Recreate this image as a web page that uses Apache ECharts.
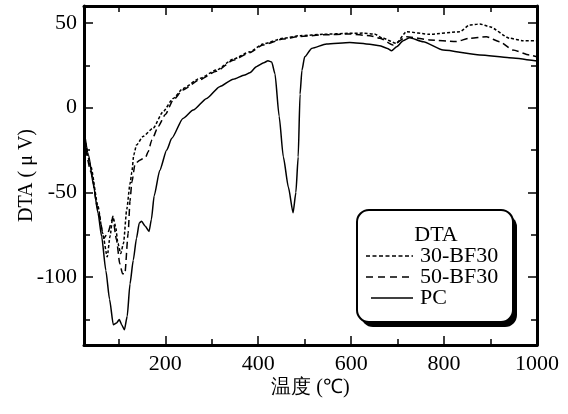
<!DOCTYPE html>
<html>
<head>
<meta charset="utf-8">
<script src="https://cdn.jsdelivr.net/npm/echarts@6/dist/echarts.min.js"></script>
<style>html,body{margin:0;padding:0;background:#fff}#c{width:568px;height:414px}</style>
</head>
<body>
<div id="c"></div>
<script>
// ---- data ----
const pcTemp = [25, 35, 45, 55, 63, 72, 80, 88, 95, 101, 106, 112, 118, 124, 131, 138, 144, 149, 157, 165, 170, 176, 188, 203, 214, 238, 260, 289, 317, 346, 371, 382, 396, 412, 421, 429, 436, 445, 454, 465, 475, 481, 486, 490, 494, 500, 515, 547, 597, 640, 661, 678, 687, 698, 712, 726, 755, 798, 877, 940, 1000];
const pcValue = [-13, -28, -45, -62, -76, -96, -113, -128, -127, -125, -128, -131, -123, -104, -90, -77, -68, -67, -70, -73, -66, -52, -37, -25, -18, -6.3, -1.4, 5.5, 12.4, 16.8, 19.3, 20.6, 24.2, 26.5, 27.7, 27, 20, -5, -29, -47, -62, -50, -29, 8, 22, 30, 35, 37.6, 38.5, 37.5, 36.6, 35, 33.6, 36, 39.5, 41.3, 38.9, 34, 31.1, 29.5, 27.5];

const bf30Temp = [25, 40, 55, 65, 75, 81, 87, 93, 98, 104, 110, 117, 124, 128, 132, 138, 152, 174, 195, 217, 238, 274, 310, 346, 382, 410, 453, 490, 540, 597, 625, 650, 668, 697, 719, 769, 834, 855, 877, 898, 941, 970, 1000];
const bf30Value = [-15, -35, -58, -74, -88, -76, -64, -70, -80, -86, -80, -60, -45, -38, -28, -22, -17, -12, -2.4, 5.5, 11.4, 17.3, 22.2, 28.6, 33, 37.6, 40.9, 42.5, 43.3, 43.9, 44, 43.5, 41, 38, 44.8, 43.3, 44.8, 48.8, 49.4, 47.8, 41, 39.5, 39.5];

const bf50Temp = [25, 40, 55, 68, 76, 87, 95, 102, 108, 113, 120, 124, 128, 135, 145, 158, 163, 171, 185, 200, 217, 238, 274, 310, 346, 382, 410, 453, 490, 540, 597, 640, 662, 690, 719, 769, 826, 855, 891, 920, 948, 984, 1000];
const bf50Value = [-18, -38, -60, -77, -74, -65, -78, -92, -98, -98, -74, -55, -44, -33, -31, -29, -26, -19, -11, -4, 4.5, 10.5, 16.5, 21.5, 28, 32.5, 37, 40.5, 42, 43, 43.5, 42.5, 41, 37, 41.9, 40, 39, 41, 41.9, 38.9, 34, 31.1, 30];

const seriesNames = ['30-BF30', '50-BF30', 'PC'];
const legendTitle = 'DTA';
const xMajorTicks = [200, 400, 600, 800];
const xMinorTicks = [100, 300, 500, 700, 900];
const xLabels = [200, 400, 600, 800, 1000];
const yMajorTicks = [-100, -50, 0, 50];
const yMinorTicks = [-125, -75, -25, 25];
const yLabels = [-100, -50, 0, 50];
const xTitle = '温度 (℃)';
const yTitle = 'DTA ( μ V)';

// ---- chart ----
const FONT = '"Liberation Serif", "Times New Roman", serif';
const zip = (a, b) => a.map((v, i) => [v, b[i]]);
const tickStyle = {color: '#000', width: 1.5};
const plain = v => String(v);

function xAxisDef(pos, ticks, len, showLine, labels) {
  return {
    type: 'value', min: 25, max: 1000, position: pos,
    axisLine: {show: showLine, onZero: false, lineStyle: {color: '#000', width: 3}},
    axisTick: {show: true, inside: true, length: len, customValues: ticks, lineStyle: tickStyle},
    axisLabel: labels ? {show: true, customValues: labels, formatter: plain, fontSize: 22, fontFamily: FONT, color: '#000', margin: 8} : {show: false},
    splitLine: {show: false}
  };
}
function yAxisDef(pos, ticks, len, showLine, labels) {
  return {
    type: 'value', min: -140, max: 60, position: pos,
    axisLine: {show: showLine, onZero: false, lineStyle: {color: '#000', width: 3}},
    axisTick: {show: true, inside: true, length: len, customValues: ticks, lineStyle: tickStyle},
    axisLabel: labels ? {show: true, customValues: labels, formatter: plain, fontSize: 22, fontFamily: FONT, color: '#000', margin: 7} : {show: false},
    splitLine: {show: false}
  };
}

const xAxes = [
  xAxisDef('bottom', xMajorTicks, 9, true, xLabels),
  xAxisDef('bottom', xMinorTicks, 6, false, null),
  xAxisDef('top', xMajorTicks, 9, true, null),
  xAxisDef('top', xMinorTicks, 6, false, null)
];
Object.assign(xAxes[0], {name: xTitle, nameLocation: 'middle', nameGap: 33, nameMoveOverlap: false,
  nameTextStyle: {fontSize: 20, fontFamily: FONT, color: '#000'}});
const yAxes = [
  yAxisDef('left', yMajorTicks, 9, true, yLabels),
  yAxisDef('left', yMinorTicks, 6, false, null),
  yAxisDef('right', yMajorTicks, 9, true, null),
  yAxisDef('right', yMinorTicks, 6, false, null)
];
Object.assign(yAxes[0], {name: yTitle, nameLocation: 'middle', nameGap: 57, nameRotate: 90, nameMoveOverlap: false,
  nameTextStyle: {fontSize: 20, fontFamily: FONT, color: '#000', verticalAlign: 'middle'}});

function lineSeries(name, data, dash) {
  return {
    name, type: 'line', data, xAxisIndex: 0, yAxisIndex: 0,
    showSymbol: false, symbol: 'none', smooth: 0.2, smoothMonotone: 'x',
    lineStyle: {color: '#000', width: 1.5, type: dash}
  };
}

const chart = echarts.init(document.getElementById('c'), null, {renderer: 'canvas'});
const LX0 = 366, LX1 = 413, TX = 420;
const LF = '22px ' + FONT;
chart.setOption({
  animation: false,
  backgroundColor: '#fff',
  grid: {left: 84, right: 31, top: 6, bottom: 69, containLabel: false, outerBoundsMode: 'none'},
  xAxis: xAxes,
  yAxis: yAxes,
  series: [
    lineSeries(seriesNames[0], zip(bf30Temp, bf30Value), [3, 2]),
    lineSeries(seriesNames[1], zip(bf50Temp, bf50Value), [7, 4]),
    lineSeries(seriesNames[2], zip(pcTemp, pcValue), 'solid')
  ],
  graphic: [
    {type: 'rect', shape: {x: 361, y: 215, width: 156, height: 112, r: 12}, style: {fill: '#000'}, z: 100},
    {type: 'rect', shape: {x: 357, y: 210, width: 156, height: 112, r: 12}, style: {fill: '#fff', stroke: '#000', lineWidth: 2}, z: 101},
    {type: 'text', x: 436, y: 235, style: {text: legendTitle, font: LF, fill: '#000', align: 'center', verticalAlign: 'middle'}, z: 102},
    {type: 'line', shape: {x1: LX0, y1: 256, x2: LX1, y2: 256}, style: {stroke: '#000', lineWidth: 1.5, lineDash: [4, 2.5]}, z: 102},
    {type: 'text', x: TX, y: 256, style: {text: seriesNames[0], font: LF, fill: '#000', align: 'left', verticalAlign: 'middle'}, z: 102},
    {type: 'line', shape: {x1: LX0, y1: 277, x2: LX1, y2: 277}, style: {stroke: '#000', lineWidth: 1.5, lineDash: [7, 5]}, z: 102},
    {type: 'text', x: TX, y: 277, style: {text: seriesNames[1], font: LF, fill: '#000', align: 'left', verticalAlign: 'middle'}, z: 102},
    {type: 'line', shape: {x1: LX0 + 5, y1: 298, x2: LX1, y2: 298}, style: {stroke: '#000', lineWidth: 1.5}, z: 102},
    {type: 'text', x: TX, y: 298, style: {text: seriesNames[2], font: LF, fill: '#000', align: 'left', verticalAlign: 'middle'}, z: 102}
  ]
});
</script>
</body>
</html>
